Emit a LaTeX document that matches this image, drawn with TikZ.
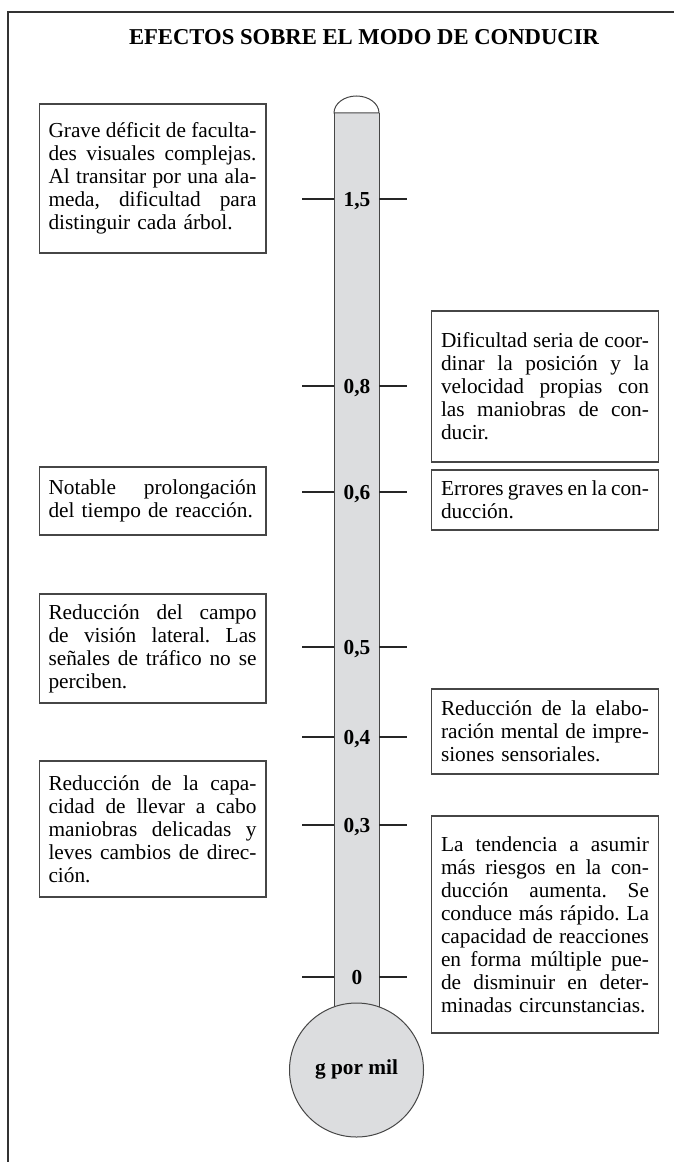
\documentclass[tikz,border=0pt]{standalone}
\usepackage{fontspec}
\setmainfont{Liberation Serif}
\definecolor{tubogris}{RGB}{220,221,223}
\definecolor{bordegris}{RGB}{70,70,70}
\newlength{\anchocaja}
\setlength{\anchocaja}{156pt}
% justified line: words spread over the whole box width
\makeatletter
\def\fila#1{\hbox to\anchocaja{\fila@aux#1 \@nil}}
\def\fila@aux#1 #2\@nil{#1\if\relax\detokenize{#2}\relax\else
  \hskip .25em plus 1fil minus .12em\relax\fila@aux#2\@nil\fi}
\makeatother
\newcommand{\ultima}[1]{\hbox{#1}}
\newcommand{\textocaja}{\fontsize{16}{17.25}\selectfont\frenchspacing}
\tikzset{
  caja/.style={draw=bordegris, line width=0.8pt, fill=white, text width=\anchocaja,
    inner xsep=7.1pt, inner ysep=0pt, font=\textocaja},
  marca/.style={line width=2pt, black!85},
  tubo/.style={draw=bordegris, line width=0.75pt},
  valor/.style={font=\fontsize{16}{18}\selectfont\bfseries, inner sep=0pt,
    text height=10.8pt, text depth=0pt},
}
\begin{document}
\begin{tikzpicture}[x=0.75pt, y=-0.75pt]
    \useasboundingbox (0,0) rectangle (674,1162);

    % Outer frame
    \draw[line width=1pt, black!80] (8,1162) -- (8,12) -- (674,12);

    % Title
    \node[font=\fontsize{17}{20}\selectfont\bfseries] (titulo) at (364,37)
        {EFECTOS SOBRE EL MODO DE CONDUCIR};

    % Tube of the thermometer
    \fill[tubogris] (334,113) rectangle (379,1010);
    \draw[tubo] (334,113) -- (334,1007);
    \draw[tubo] (379,113) -- (379,1007);
    \draw[tubo, fill=white] (334,113) arc[start angle=180, end angle=360,
        x radius=22.5, y radius=17] -- cycle;

    % Bulb
    \filldraw[tubo, fill=tubogris] (356.5,1070) circle[radius=67];
    \node[font=\fontsize{16}{18}\selectfont\bfseries] (bulbo) at (356.5,1069) {g por mil};

    % Scale marks
    \foreach \yy/\val [count=\i] in {199/{1,5}, 386/{0,8}, 492/{0,6}, 647/{0,5},
        737/{0,4}, 825/{0,3}, 977/{0}} {
        \draw[marca] (302,\yy) -- (334,\yy);
        \draw[marca] (379,\yy) -- (407,\yy);
        \node[valor] (m\i) at (357,\yy) {\val};
    }

    % Left boxes
    \node[caja, minimum height=111.75pt] (grave) at (152.5,178.5) {%
        \fila{Grave déficit de faculta-}
        \fila{des visuales complejas.}
        \fila{Al transitar por una ala-}
        \fila{meda, dificultad para}
        \ultima{distinguir cada árbol.}};
    \node[caja, minimum height=51pt] (notable) at (152.5,501) {%
        \fila{Notable prolongación}
        \ultima{del tiempo de reacción.}};
    \node[caja, minimum height=81.75pt] (campo) at (152.5,648.5) {%
        \fila{Reducción del campo}
        \fila{de visión lateral. Las}
        \fila{señales de tráfico no se}
        \ultima{perciben.}};
    \node[caja, minimum height=102pt] (capa) at (152.5,829) {%
        \fila{Reducción de la capa-}
        \fila{cidad de llevar a cabo}
        \fila{maniobras delicadas y}
        \fila{leves cambios de direc-}
        \ultima{ción.}};

    % Right boxes
    \node[caja, minimum height=113.25pt] (dificultad) at (545,386.5) {%
        \fila{Dificultad seria de coor-}
        \fila{dinar la posición y la}
        \fila{velocidad propias con}
        \fila{las maniobras de con-}
        \ultima{ducir.}};
    \node[caja, minimum height=45pt] (errores) at (545,500) {%
        \fila{Errores graves en la con-}
        \ultima{ducción.}};
    \node[caja, minimum height=63.75pt] (elabo) at (545,731.5) {%
        \fila{Reducción de la elabo-}
        \fila{ración mental de impre-}
        \ultima{siones sensoriales.}};
    \node[caja, minimum height=162.75pt] (tendencia) at (545,924.5) {%
        \fila{La tendencia a asumir}
        \fila{más riesgos en la con-}
        \fila{ducción aumenta. Se}
        \fila{conduce más rápido. La}
        \fila{capacidad de reacciones}
        \fila{en forma múltiple pue-}
        \fila{de disminuir en deter-}
        \ultima{minadas circunstancias.}};
\end{tikzpicture}
\end{document}
